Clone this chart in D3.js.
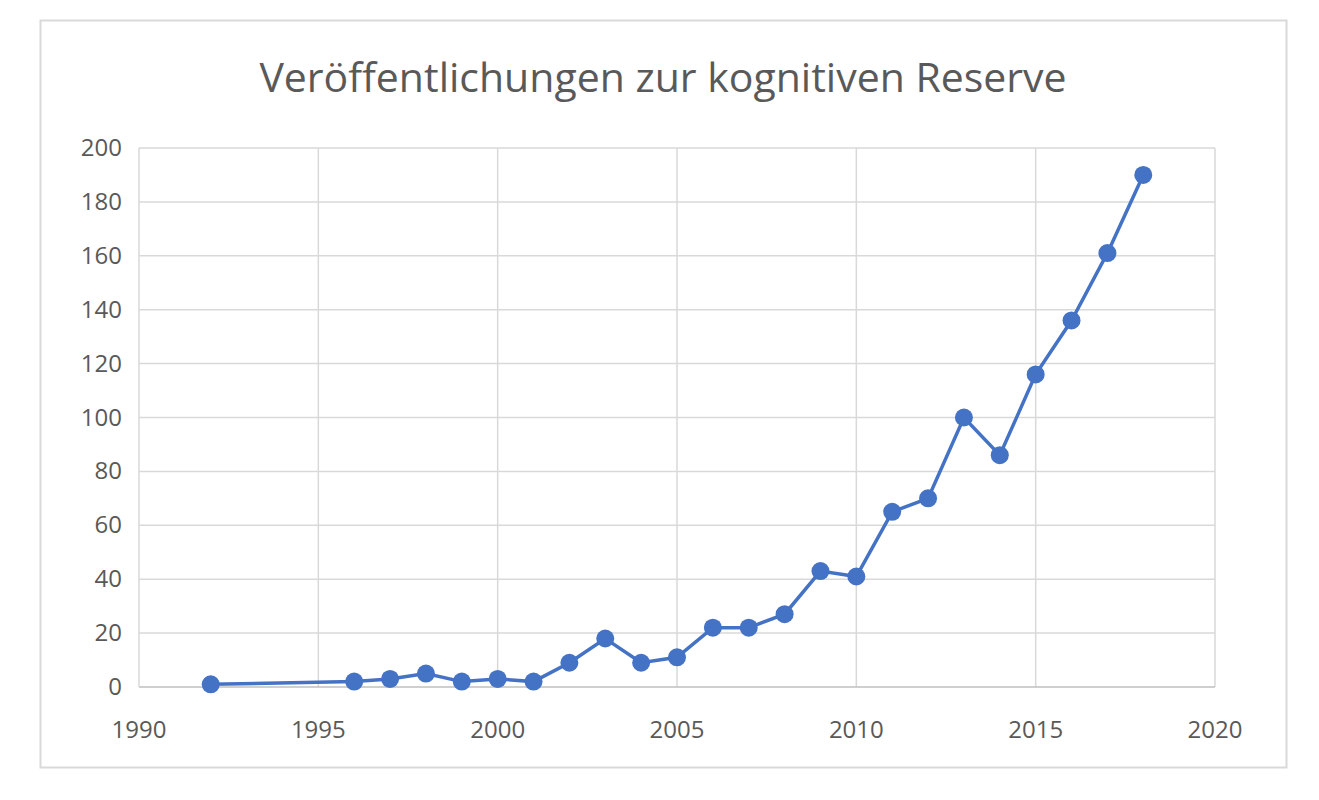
<!DOCTYPE html>
<html><head><meta charset="utf-8">
<script src="https://cdn.jsdelivr.net/npm/d3@7"></script>
<style>body{margin:0;background:#fff}text{font-family:"Open Sans","Noto Sans",sans-serif}</style>
</head><body><svg id="c" width="1319" height="800"></svg>
<script>
const title = "Veröffentlichungen zur kognitiven Reserve";
const years = [1992,1996,1997,1998,1999,2000,2001,2002,2003,2004,2005,2006,2007,2008,2009,2010,2011,2012,2013,2014,2015,2016,2017,2018];
const counts = [1,2,3,5,2,3,2,9,18,9,11,22,22,27,43,41,65,70,100,86,116,136,161,190];
const xTicks = [1990,1995,2000,2005,2010,2015,2020];
const yTicks = [0,20,40,60,80,100,120,140,160,180,200];

const svg = d3.select("#c");
svg.append("rect").attr("x",40.5).attr("y",20.5).attr("width",1246).attr("height",747)
  .attr("fill","#fff").attr("stroke","#d9d9d9").attr("stroke-width",2);
const x = d3.scaleLinear().domain([1990,2020]).range([139,1215]);
const y = d3.scaleLinear().domain([0,200]).range([687,148]);
svg.append("text").attr("x",663).attr("y",92).attr("text-anchor","middle")
  .attr("font-size",41).attr("fill","#595959").text(title);
const g = svg.append("g");
g.selectAll(".h").data(yTicks.slice(1)).join("line").attr("x1",139).attr("x2",1215)
  .attr("y1",d=>y(d)).attr("y2",d=>y(d)).attr("stroke","#d9d9d9").attr("stroke-width",1.5);
g.selectAll(".v").data(xTicks.slice(1)).join("line").attr("y1",148).attr("y2",687)
  .attr("x1",d=>x(d)).attr("x2",d=>x(d)).attr("stroke","#d9d9d9").attr("stroke-width",1.5);
g.append("line").attr("x1",139).attr("x2",1215).attr("y1",687).attr("y2",687).attr("stroke","#bfbfbf").attr("stroke-width",1.5);
g.append("line").attr("x1",139).attr("x2",139).attr("y1",148).attr("y2",687).attr("stroke","#d9d9d9").attr("stroke-width",1.5);
svg.selectAll(".yl").data(yTicks).join("text").attr("x",122).attr("y",d=>y(d)+8)
  .attr("text-anchor","end").attr("font-size",24).attr("fill","#595959").text(d=>d);
svg.selectAll(".xl").data(xTicks).join("text").attr("x",d=>x(d)).attr("y",738)
  .attr("text-anchor","middle").attr("font-size",24).attr("fill","#595959").text(d=>d);
const data = years.map((d,i)=>({x:d,y:counts[i]}));
svg.append("path").datum(data).attr("fill","none").attr("stroke","#4472c4").attr("stroke-width",3.5)
  .attr("d",d3.line().x(d=>x(d.x)).y(d=>y(d.y)));
svg.selectAll(".p").data(data).join("circle").attr("cx",d=>x(d.x)).attr("cy",d=>y(d.y))
  .attr("r",9).attr("fill","#4472c4");
</script></body></html>
